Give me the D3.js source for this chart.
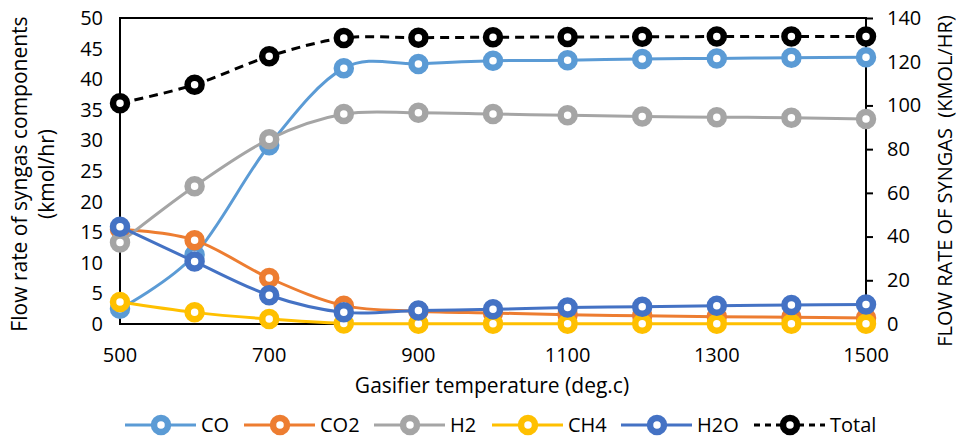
<!DOCTYPE html>
<html><head><meta charset="utf-8">
<script src="https://cdn.jsdelivr.net/npm/d3@7"></script>
<style>body{margin:0;background:#fff}text{font-family:"Open Sans",Lato,sans-serif;fill:#000}</style>
</head><body><svg id="c" width="960" height="441"></svg>
<script>
const temps = [500,600,700,800,900,1000,1100,1200,1300,1400,1500];
const CO  = [2.5,11.3,29.2,41.8,42.5,43.0,43.1,43.3,43.4,43.5,43.6];
const CO2 = [15.5,13.7,7.5,3.0,2.1,1.8,1.5,1.35,1.2,1.1,1.0];
const H2  = [13.3,22.5,30.2,34.3,34.5,34.3,34.1,33.9,33.8,33.7,33.5];
const CH4 = [3.6,1.9,0.8,0.1,0.05,0.05,0.05,0.05,0.05,0.05,0.05];
const H2O = [15.9,10.2,4.7,1.9,2.2,2.4,2.7,2.8,3.0,3.1,3.2];
const Total = [101,109.5,122.5,130.8,131,131.2,131.3,131.4,131.5,131.5,131.5];
const xTicks = [500,700,900,1100,1300,1500];
const yLeftTicks = [0,5,10,15,20,25,30,35,40,45,50];
const yRightTicks = [0,20,40,60,80,100,120,140];
const series = [
  {name:"CO", values:CO, color:"#5B9BD5", axis:"L"},
  {name:"CO2", values:CO2, color:"#ED7D31", axis:"L"},
  {name:"H2", values:H2, color:"#A5A5A5", axis:"L"},
  {name:"CH4", values:CH4, color:"#FFC000", axis:"L"},
  {name:"H2O", values:H2O, color:"#4472C4", axis:"L"},
  {name:"Total", values:Total, color:"#000000", axis:"R", dash:"9,6"}
];

const svg = d3.select("#c");
const L=120,R=866,T=18,B=324;
const x = d3.scaleLinear().domain([500,1500]).range([L,R]);
const yL = d3.scaleLinear().domain([0,50]).range([B,T]);
const yR = d3.scaleLinear().domain([0,140]).range([B,T]);

svg.append("rect").attr("x",L).attr("y",T).attr("width",R-L).attr("height",B-T)
  .attr("fill","none").attr("stroke","#000").attr("stroke-width",2);

const fs = 20, ft = 21;
svg.append("g").selectAll("text").data(yLeftTicks).join("text")
  .attr("x",103).attr("y",d=>yL(d)).attr("dy","0.35em").attr("text-anchor","end")
  .attr("font-size",fs).text(d=>d);
const gr = svg.append("g").attr("transform",`translate(${R},0)`)
  .call(d3.axisRight(yR).tickValues(yRightTicks).tickSize(7).tickPadding(14));
gr.select(".domain").remove();
gr.selectAll("line").attr("stroke","#000").attr("stroke-width",2);
gr.selectAll("text").attr("font-size",fs).attr("font-family","Open Sans");
svg.append("g").selectAll("text").data(xTicks).join("text")
  .attr("x",d=>x(d)).attr("y",362).attr("text-anchor","middle")
  .attr("font-size",fs).text(d=>d);

svg.append("text").attr("x",492).attr("y",393).attr("text-anchor","middle")
  .attr("font-size",ft).text("Gasifier temperature (deg.c)");
const lt = svg.append("text").attr("transform","translate(27,174) rotate(-90)")
  .attr("text-anchor","middle").attr("font-size",ft);
lt.append("tspan").attr("x",0).attr("dy",0).text("Flow rate of syngas components");
lt.append("tspan").attr("x",0).attr("dy",27).text("(kmol/hr)");
svg.append("text").attr("transform","translate(952,181) rotate(-90)")
  .attr("text-anchor","middle").attr("font-size",20).attr("xml:space","preserve")
  .text("FLOW RATE OF SYNGAS  (KMOL/HR)");

const line = (ys)=>d3.line().x((d,i)=>x(temps[i])).y(d=>ys(d)).curve(d3.curveCardinal.tension(0));
series.forEach(s=>{
  const ys = s.axis==="L"?yL:yR;
  const g = svg.append("g");
  g.append("path").datum(s.values).attr("d",line(ys)).attr("fill","none")
    .attr("stroke",s.color).attr("stroke-width",3).attr("stroke-dasharray",s.dash||null);
  g.selectAll("circle").data(s.values).join("circle")
    .attr("cx",(d,i)=>x(temps[i])).attr("cy",d=>ys(d)).attr("r",7)
    .attr("fill","#fff").attr("stroke",s.color).attr("stroke-width",6.5);
});

const legX = [125,244,374,492,621,754];
const lg = svg.append("g");
series.forEach((s,i)=>{
  const x0 = legX[i], y0=425;
  lg.append("line").attr("x1",x0).attr("x2",x0+71).attr("y1",y0).attr("y2",y0)
    .attr("stroke",s.color).attr("stroke-width",3).attr("stroke-dasharray",s.dash?"6,5":null);
  lg.append("circle").attr("cx",x0+36).attr("cy",y0).attr("r",7)
    .attr("fill","#fff").attr("stroke",s.color).attr("stroke-width",6.5);
  lg.append("text").attr("x",x0+76).attr("y",y0).attr("dy","0.35em").attr("font-size",fs).text(s.name);
});
</script></body></html>
